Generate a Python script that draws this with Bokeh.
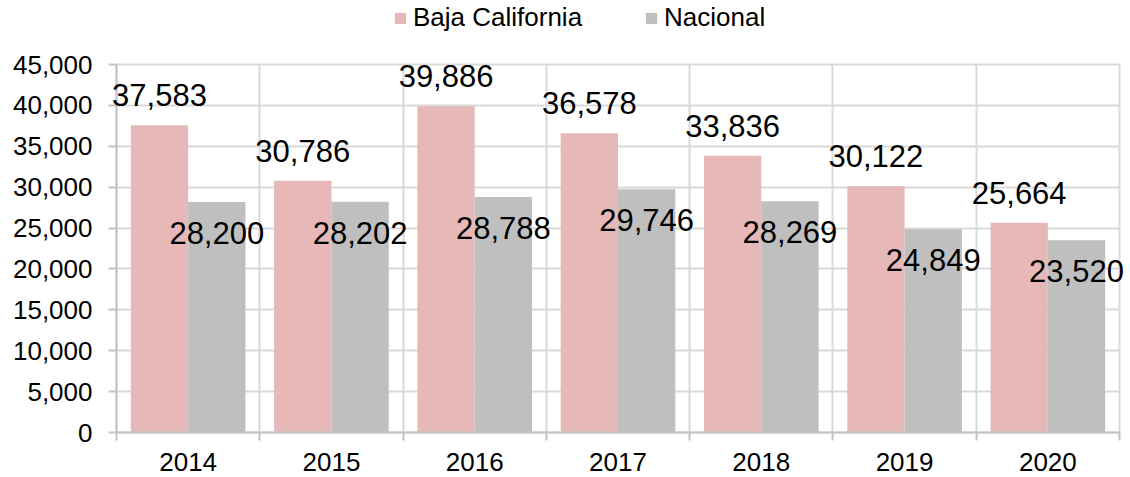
from bokeh.plotting import figure
from bokeh.models import (ColumnDataSource, FixedTicker, NumeralTickFormatter, Legend,
                          LegendItem, Range1d, LabelSet)
from bokeh.core.properties import value
from bokeh.embed import file_html
from bokeh.resources import INLINE

years = ["2014", "2015", "2016", "2017", "2018", "2019", "2020"]
baja = [37583, 30786, 39886, 36578, 33836, 30122, 25664]
nacional = [28200, 28202, 28788, 29746, 28269, 24849, 23520]
series_names = ["Baja California", "Nacional"]
y_max = 45000
y_ticks = list(range(0, y_max + 1, 5000))

PINK = "#E6B9B8"
GRAY = "#BFBFBF"
FONT = "Liberation Sans"
GRID = "#D9D9D9"
AXIS = "#C4C4C4"

n = len(years)
centers = [i + 0.5 for i in range(n)]
src = ColumnDataSource(dict(
    x_baja=[c - 0.2 for c in centers],
    x_nac=[c + 0.2 for c in centers],
    baja=baja,
    nacional=nacional,
    baja_lbl=[f"{v:,}" for v in baja],
    nac_lbl=[f"{v:,}" for v in nacional],
))

# plot area: value axis 0..45000 spans 368 px, category axis 0..7 spans 1003 px;
# the frame covers the whole canvas so that legend, tick labels and edge labels
# are drawn inside it (annotations are clipped to the frame)
W, H = 1130, 477
L, B = 116, 45
px_y = 368 / y_max
px_x = 1003 / n
y_start = -B / px_y
y_end = (H - B) / px_y
x_start = -L / px_x
x_end = (W - L) / px_x

p = figure(width=W, height=H,
           x_range=Range1d(x_start, x_end), y_range=Range1d(y_start, y_end),
           output_backend="svg", toolbar_location=None,
           min_border_left=0, min_border_right=0, min_border_top=0, min_border_bottom=0)
p.outline_line_color = None
p.background_fill_color = "white"

r1 = p.vbar(x="x_baja", top="baja", width=0.4, source=src, fill_color=PINK, line_color=None)
r2 = p.vbar(x="x_nac", top="nacional", width=0.4, source=src, fill_color=GRAY, line_color=None)

lbl1 = LabelSet(x="x_baja", y="baja", text="baja_lbl", source=src, y_offset=19,
                text_align="center", text_baseline="alphabetic",
                text_font=value(FONT), text_font_size=value("31px"), text_color="black")
lbl2 = LabelSet(x="x_nac", y="nacional", text="nac_lbl", source=src, y_offset=-42,
                text_align="center", text_baseline="alphabetic",
                text_font=value(FONT), text_font_size=value("31px"), text_color="black")
p.add_layout(lbl1)
p.add_layout(lbl2)

# y axis, drawn at x = 0 of the category axis
p.yaxis.fixed_location = 0
p.yaxis.bounds = (0, y_max)
p.yaxis.ticker = FixedTicker(ticks=y_ticks)
p.yaxis.formatter = NumeralTickFormatter(format="0,0")
p.yaxis.major_label_text_font = FONT
p.yaxis.major_label_text_font_size = "26px"
p.yaxis.major_label_text_color = "black"
p.yaxis.axis_line_color = AXIS
p.yaxis.axis_line_width = 2
p.yaxis.major_tick_line_color = AXIS
p.yaxis.major_tick_line_width = 2
p.yaxis.major_tick_out = 8
p.yaxis.major_tick_in = 0
p.yaxis.minor_tick_line_color = None
p.yaxis.major_label_standoff = 16

# x axis, drawn at y = 0 of the value axis
p.xaxis.fixed_location = 0
p.xaxis.bounds = (0, n)
p.xaxis.ticker = FixedTicker(ticks=centers, minor_ticks=list(range(n + 1)))
p.xaxis.major_label_overrides = {c: y for c, y in zip(centers, years)}
p.xaxis.major_label_text_font = FONT
p.xaxis.major_label_text_font_size = "26px"
p.xaxis.major_label_text_color = "black"
p.xaxis.axis_line_color = AXIS
p.xaxis.axis_line_width = 2
p.xaxis.major_tick_line_color = None
p.xaxis.major_tick_out = 0
p.xaxis.major_tick_in = 0
p.xaxis.minor_tick_line_color = AXIS
p.xaxis.minor_tick_line_width = 2
p.xaxis.minor_tick_out = 8
p.xaxis.minor_tick_in = 0
p.xaxis.major_label_standoff = 12

# grids
p.xgrid.ticker = FixedTicker(ticks=list(range(n + 1)))
p.xgrid.bounds = (0, n)
p.xgrid.cross_bounds = (0, y_max)
p.xgrid.grid_line_color = GRID
p.xgrid.grid_line_width = 2
p.ygrid.ticker = FixedTicker(ticks=y_ticks)
p.ygrid.bounds = (0, y_max)
p.ygrid.cross_bounds = (0, n)
p.ygrid.grid_line_color = GRID
p.ygrid.grid_line_width = 2

legend = Legend(items=[LegendItem(label=series_names[0], renderers=[r1]),
                       LegendItem(label=series_names[1], renderers=[r2])],
                location=(393, 444), orientation="horizontal",
                glyph_width=14, glyph_height=14, label_standoff=6, spacing=62,
                padding=0, margin=0, border_line_color=None, background_fill_alpha=0,
                label_text_font=FONT, label_text_font_size="26px", label_text_color="black")
p.add_layout(legend)

open("out.html", "w").write(file_html(p, INLINE))
